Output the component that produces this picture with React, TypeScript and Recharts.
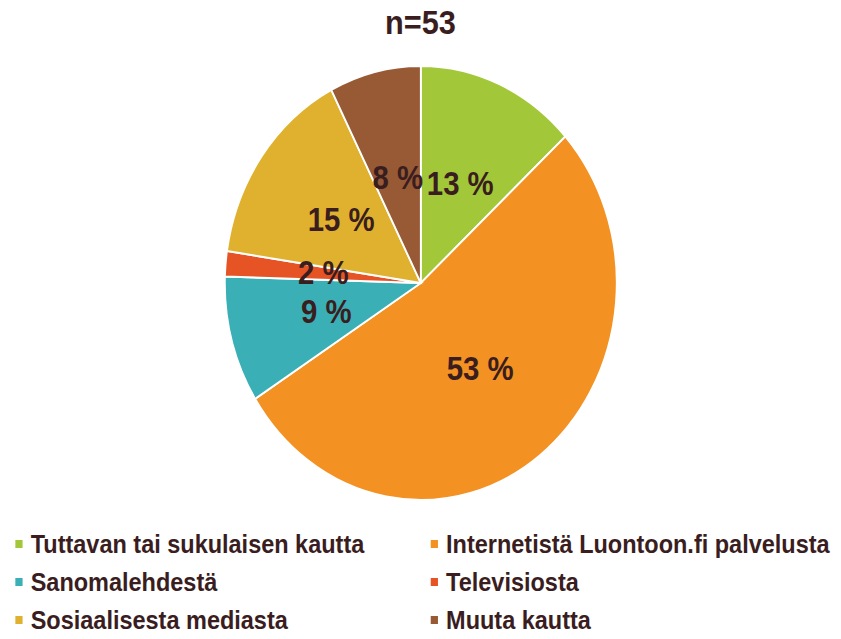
import React from 'react';
import { PieChart, Pie, Cell, Legend } from 'recharts';

// n=53 respondents, counts per answer
const categories = [
  'Tuttavan tai sukulaisen kautta',
  'Internetistä Luontoon.fi palvelusta',
  'Sanomalehdestä',
  'Televisiosta',
  'Sosiaalisesta mediasta',
  'Muuta kautta',
];
const counts = [7, 28, 5, 1, 8, 4];
const colors = ['#A2C83A', '#F39122', '#3AB0B6', '#E65325', '#E0B12F', '#975A35'];
const title = 'n=53';

const data = categories.map((name, i) => ({ name, value: counts[i] }));

const SQUISH = 0.903;
const W = 841 / SQUISH;
const H = 639;
const TEXT = '#3A1D1E';
const FONT = '"Liberation Sans", Arial, sans-serif';
const RADIAN = Math.PI / 180;

const renderLabel = (props: any) => {
  const { cx, cy, midAngle, outerRadius, percent } = props;
  const r = outerRadius * 0.5;
  const x = cx + r * Math.cos(-midAngle * RADIAN);
  const y = cy + r * Math.sin(-midAngle * RADIAN);
  return (
    <text
      x={x}
      y={y}
      fill={TEXT}
      textAnchor="middle"
      dominantBaseline="central"
      style={{ fontFamily: FONT, fontWeight: 700, fontSize: 32.5 }}
    >
      {`${Math.round(percent * 100)} %`}
    </text>
  );
};

const renderLegend = (props: any) => {
  // keep the data order, not the alphabetical one
  const payload = [...(props.payload || [])].sort(
    (a: any, b: any) => categories.indexOf(a.value) - categories.indexOf(b.value)
  );
  return (
    <div
      style={{
        display: 'grid',
        gridTemplateColumns: '460px 470px',
        paddingLeft: 17,
        fontFamily: FONT,
        fontWeight: 700,
        fontSize: 26,
        color: TEXT,
      }}
    >
      {payload.map((entry: any, i: number) => (
        <div key={`legend-${i}`} style={{ display: 'flex', alignItems: 'center', height: 38, whiteSpace: 'nowrap' }}>
          <span style={{ display: 'inline-block', width: 8, height: 8, background: entry.color, marginRight: 9 }} />
          <span>{entry.value}</span>
        </div>
      ))}
    </div>
  );
};

export default function App() {
  return (
    <div style={{ width: 841, height: 639, overflow: 'hidden', position: 'relative', margin: -8, background: '#fff' }}>
      <div style={{ width: W, height: H, position: 'relative', transform: `scaleX(${SQUISH})`, transformOrigin: '0 0' }}>
        <div
          style={{
            position: 'absolute',
            left: 0,
            width: W,
            top: 3,
            textAlign: 'center',
            fontFamily: FONT,
            fontWeight: 700,
            fontSize: 34,
            color: TEXT,
            zIndex: 2,
          }}
        >
          {title}
        </div>
        <PieChart width={W} height={H} margin={{ top: 0, right: 0, bottom: 0, left: 0 }}>
          <Pie
            data={data}
            dataKey="value"
            nameKey="name"
            cx={466}
            cy={283}
            outerRadius={217}
            startAngle={90}
            endAngle={-270}
            stroke="#fff"
            strokeWidth={2}
            label={renderLabel}
            labelLine={false}
            isAnimationActive={false}
          >
            {data.map((entry, index) => (
              <Cell key={`cell-${index}`} fill={colors[index]} />
            ))}
          </Pie>
          <Legend
            content={renderLegend}
            wrapperStyle={{ position: 'absolute', left: 0, top: 525, width: W }}
          />
        </PieChart>
      </div>
    </div>
  );
}
